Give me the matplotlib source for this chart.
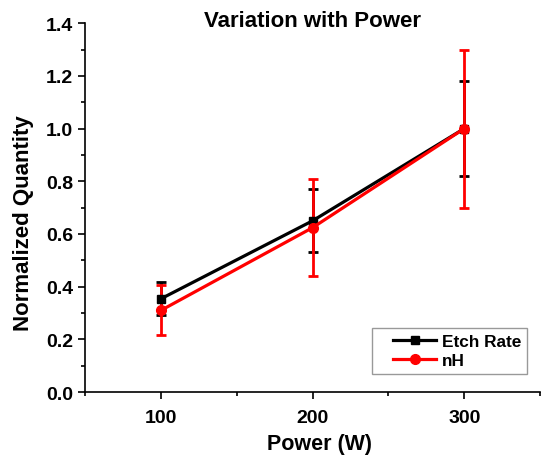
import matplotlib
matplotlib.use('Agg')
import matplotlib.pyplot as plt
from matplotlib.lines import Line2D
from matplotlib.legend_handler import HandlerLine2D
from matplotlib.ticker import MultipleLocator

plt.rcParams['font.family'] = ['Liberation Sans', 'DejaVu Sans']
plt.rcParams['font.weight'] = 'bold'

# Data
power = [100, 200, 300]
etch_rate = [0.354, 0.65, 1.0]
etch_err = [0.063, 0.12, 0.18]
nh = [0.31, 0.624, 1.0]
nh_err = [0.095, 0.185, 0.30]

fig = plt.figure(figsize=(5.42, 4.56), dpi=100)
ax = fig.add_axes([0.157, 0.138, 0.8395, 0.809])

ax.errorbar(power, etch_rate, yerr=etch_err, color='black', lw=2.3,
            marker='s', ms=6, capsize=3.6, capthick=2, elinewidth=2)
ax.errorbar(power, nh, yerr=nh_err, color='red', lw=2.3,
            marker='o', ms=7, capsize=3.6, capthick=2, elinewidth=2)

ax.set_xlim(50, 350)
ax.set_ylim(0, 1.4)
ax.xaxis.set_major_locator(MultipleLocator(100))
ax.xaxis.set_minor_locator(MultipleLocator(50))
ax.yaxis.set_major_locator(MultipleLocator(0.2))
ax.yaxis.set_minor_locator(MultipleLocator(0.1))
ax.yaxis.set_major_formatter(plt.FormatStrFormatter('%.1f'))

for side in ['top', 'right']:
    ax.spines[side].set_visible(False)
for side in ['left', 'bottom']:
    ax.spines[side].set_linewidth(1.2)
ax.tick_params(which='major', direction='out', length=5, width=1.2, labelsize=14)
ax.tick_params(which='minor', direction='out', length=3, width=1.2)
ax.tick_params(axis='x', which='major', pad=7)

ax.set_xlabel('Power (W)', fontsize=15.5, fontweight='bold')
ax.set_ylabel('Normalized Quantity', fontsize=16, fontweight='bold')
ax.xaxis.set_label_coords(0.516, -0.112)
ax.yaxis.set_label_coords(-0.112, 0.46)
ax.set_title('Variation with Power', fontsize=16, fontweight='bold', y=1.0, pad=-2)

handles = [Line2D([], [], color='black', lw=2.3, marker='s', ms=6),
           Line2D([], [], color='red', lw=2.3, marker='o', ms=7)]
leg = ax.legend(handles, ['Etch Rate', 'nH'], loc='lower right', fontsize=12.4,
                frameon=True, fancybox=False, handlelength=3.4, handletextpad=0.3,
                labelspacing=0.25, borderpad=0.35, borderaxespad=0,
                bbox_to_anchor=(0.971, 0.049),
                handler_map={Line2D: HandlerLine2D(xpad=0.87)})
leg.get_frame().set_edgecolor('gray')
leg.get_frame().set_linewidth(1)

fig.savefig('out.png', dpi=100)
